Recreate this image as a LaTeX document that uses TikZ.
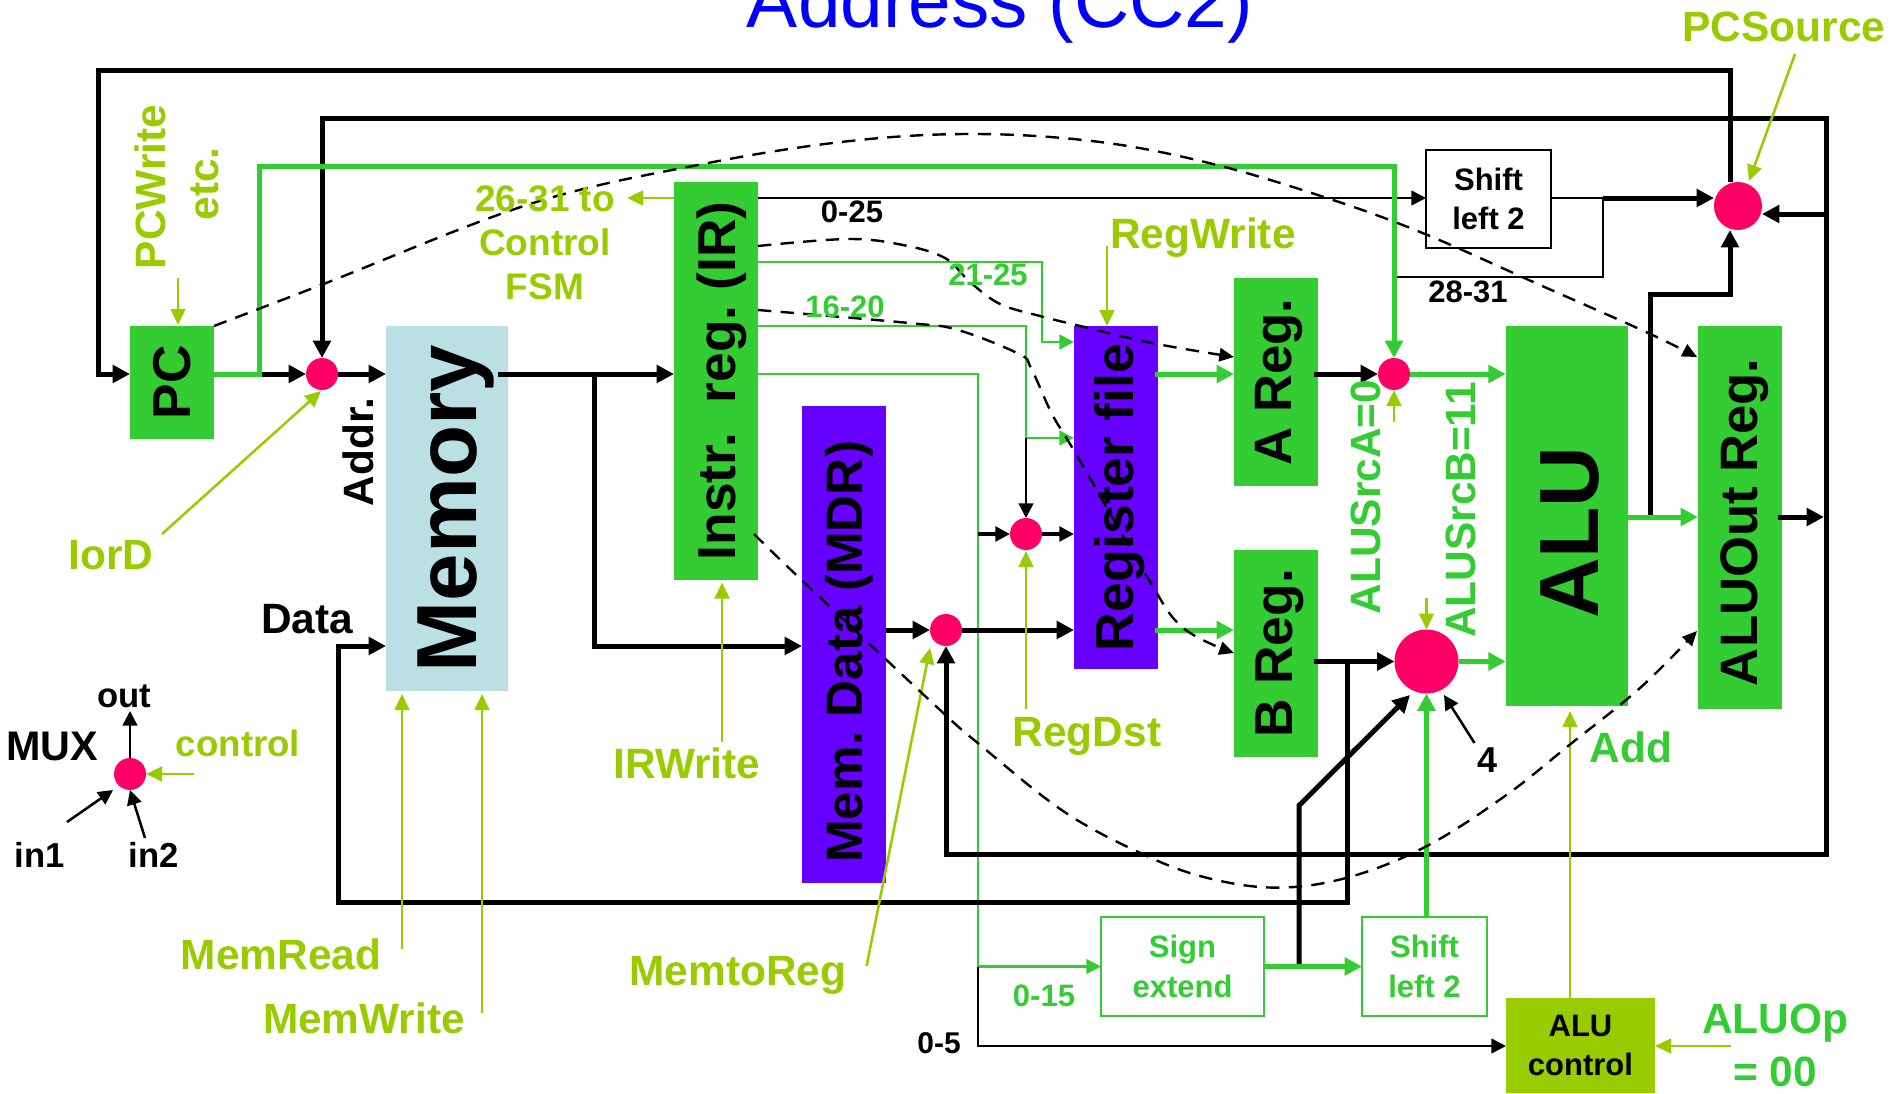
\documentclass[tikz,border=0pt]{standalone}
\usepackage{fontspec}
\usepackage{graphicx}
\setmainfont{Liberation Sans}
\usetikzlibrary{arrows.meta,shapes.geometric}
\definecolor{grn}{HTML}{33CC33}
\definecolor{olv}{HTML}{99CC00}
\definecolor{pur}{HTML}{6600FF}
\definecolor{memc}{HTML}{BBE0E3}
\definecolor{muxc}{HTML}{FF0066}
\newdimen\px \px=.75pt
\newcommand{\fsz}[1]{\fontsize{#1}{#1}\selectfont}
\newcommand{\fszl}[2]{\fontsize{#1}{#2}\selectfont}
\newcommand{\vt}[2][0pt]{\hspace*{#1}\rotatebox[origin=c]{90}{#2}}
\frenchspacing
\tikzset{
  reg/.style={inner sep=0pt,outer sep=0pt,font=\bfseries},
  muxn/.style={circle,fill=muxc,inner sep=0pt,outer sep=0pt,minimum size=32\px},
  lab/.style={inner sep=0pt,outer sep=0pt,font=\bfseries\fsz{31.8},text=olv,align=center},
  blab/.style={lab,text=black},
  glab/.style={lab,text=grn},
  wirek/.style={line width=3.75pt,line join=miter,>={Triangle[length=13pt,width=13pt]}},
  wiren/.style={line width=1.9pt,line join=miter,>={Triangle[length=11pt,width=11pt]}},
  greenk/.style={wirek,draw=grn},
  greenn/.style={wiren,draw=grn},
  ctrl/.style={line width=1.9pt,draw=olv,>={Triangle[length=12pt,width=11pt]}},
  dashc/.style={line width=1.8pt,dash pattern=on 10pt off 7pt,>={Triangle[length=11pt,width=10pt]}},
}
\begin{document}
\begin{tikzpicture}[x=.75pt,y=-.75pt]
\useasboundingbox (0,0) rectangle (1889,1093);
\fill[white] (0,0) rectangle (1889,1093);
\node[inner sep=0pt,anchor=base,text=blue,font=\fsz{57.4}] (title) at (1000,27) {Address (CC2)};

% registers and blocks
\node[reg,fill=grn,minimum width=84\px,minimum height=113\px,font=\bfseries\fsz{40}] (pc) at (172,382.5) {\vt{PC}};
\node[reg,fill=memc,minimum width=122\px,minimum height=365\px,font=\bfseries\fsz{64}] (mem) at (447,508.5) {\vt[14pt]{Memory}};
\node[reg,fill=grn,minimum width=84\px,minimum height=398.5\px,font=\bfseries\fsz{40}] (ir) at (716,381) {\vt[9pt]{Instr.\ \ reg. (IR)}};
\node[reg,fill=pur,minimum width=84\px,minimum height=477\px,font=\bfseries\fsz{38.5}] (mdr) at (844,644.5) {\vt[8pt]{Mem. Data (MDR)\hspace*{11pt}}};
\node[reg,fill=pur,minimum width=84\px,minimum height=343\px,font=\bfseries\fsz{40.3}] (rf) at (1116,497.5) {\vt[5.4pt]{Register file}};
\node[reg,fill=grn,minimum width=84\px,minimum height=208\px,font=\bfseries\fsz{39.5}] (aReg) at (1276,382) {\vt[5pt]{A Reg.}};
\node[reg,fill=grn,minimum width=84\px,minimum height=207\px,font=\bfseries\fsz{40}] (bReg) at (1276,653.5) {\vt[5pt]{B Reg.}};
\node[reg,fill=grn,minimum width=122.5\px,minimum height=380\px,font=\bfseries\fsz{63}] (alu) at (1567,516) {\vt[4pt]{ALU\hspace*{25pt}}};
\node[reg,fill=grn,minimum width=84\px,minimum height=383\px,font=\bfseries\fsz{39.5}] (aout) at (1740,517.5) {\vt[7pt]{ALUOut Reg.\hspace*{7pt}}};
\node[reg,draw=black,line width=1.9pt,minimum width=125\px,minimum height=98\px,align=center,font=\bfseries\fszl{23.25}{29.5}] (shA) at (1488.5,199) {Shift\\left 2};
\node[reg,draw=grn,line width=2pt,text=grn,minimum width=163\px,minimum height=99\px,align=center,font=\bfseries\fszl{23.25}{29.5}] (sign) at (1182.5,966.5) {Sign\\extend};
\node[reg,draw=grn,line width=2pt,text=grn,minimum width=125\px,minimum height=99\px,align=center,font=\bfseries\fszl{23.25}{29.5}] (shB) at (1424.5,966.5) {Shift\\left 2};
\node[reg,fill=olv,minimum width=149\px,minimum height=95\px,align=center,font=\bfseries\fszl{23.25}{29.5}] (aluc) at (1580.5,1045.5) {ALU\\control};

% multiplexers
\node[muxn] (mI) at (322,374) {};
\node[muxn] (mA) at (1394,374) {};
\node[muxn,minimum size=64\px] (mB) at (1426.5,661.5) {};
\node[muxn] (mR) at (1026,534) {};
\node[muxn] (mM) at (946,630) {};
\node[muxn,minimum size=48\px] (mP) at (1738,206) {};
\node[muxn] (mL) at (130,774) {};

% rows and junctions
\coordinate (r198) at (0,198);
\coordinate (r214) at (0,214);
\coordinate (r246) at (0,246);
\coordinate (r262) at (0,262);
\coordinate (r310) at (0,310);
\coordinate (r326) at (0,326);
\coordinate (r342) at (0,342);
\coordinate (r438) at (0,438);
\coordinate (r517) at (0,517);
\coordinate (r646) at (0,646);
\coordinate (r966) at (0,966.5);
\coordinate (r1046) at (0,1046);
\coordinate (jPC) at (259,374);
\coordinate (jMem) at (594,374);
\coordinate (jSh) at (1603,198);
\coordinate (j16) at (1026,438);
\coordinate (j0) at (978,966.5);
\coordinate (jR) at (978,534);
\coordinate (jB) at (1347,661.5);
\coordinate (jS) at (1299,966.5);
\coordinate (jO) at (1650,517);
\coordinate (jRt) at (1826,214);
\coordinate (eOut) at (1824,517);

% thin wires
\draw[greenn,->] (ir.east |- r262) -| (1042,342) -- (rf.west |- r342);
\draw[greenn,->] (ir.east |- r326) -| (1026,438) -- (rf.west |- r438);
\draw[greenn] (ir.east |- mI) -| (j0);
\draw[greenn,->] (j0) -- (sign.west |- r966);
\draw[wiren,->] (j0) |- (aluc.west |- r1046);
\draw[wiren,->] (ir.east |- r198) -- (shA.west |- r198);
\draw[wiren] (shA.east |- r198) -- (jSh) |- (1394,277);
\draw[wiren,->] (j16) -- (mR.north);
\draw[wiren,line width=2.6pt,->] (jR) -- (mR.west);
\draw[wiren,line width=2.6pt,->] (mR.east) -- (rf.west |- mR);
\draw[wiren,->] (mL.north) -- (130,711) coordinate (eL);
\draw[wiren,->] (67,822) coordinate (sIn1) -- (113,790);
\draw[wiren,->] (145,838) coordinate (sIn2) -- (130,790);
\draw[wiren,->] (1474.5,743) coordinate (s4) -- (1444,695);

% thick black wires
\draw[wirek,->] ([xshift=-8\px]mP.north) |- (98,70) |- (pc.west |- mI);
\draw[wirek,<->] (mI.north) |- (1826,118) |- (946,854) -- (mM.south);
\draw[wirek,->] (jPC) -- (mI.west);
\draw[wirek,->] (mI.east) -- (mem.west |- mI);
\draw[wirek,->] ([xshift=-10\px]mem.east |- mI) -- (ir.west |- mI);
\draw[wirek,->] (jMem) |- (mdr.west |- r646);
\draw[wirek,->] (mdr.east |- mM) -- (mM.west);
\draw[wirek,->] (mM.east) -- (rf.west |- mM);
\draw[wirek,->] ([xshift=-4\px]aReg.east |- mA) -- (mA.west);
\draw[wirek,->] ([xshift=-4\px]bReg.east |- mB) -- (mB.west);
\draw[wirek,->] (jB) |- (338,902) |- (mem.west |- r646);
\draw[wirek,->] (jS) -- (1299,805.5) -- (1410,695);
\draw[wirek,->] (jSh) -- (mP.west |- r198);
\draw[wirek,->] (jRt) -- (mP.east |- r214);
\draw[wirek,->] (jO) -- (1650,294) -| ([xshift=-8\px]mP.south);
\draw[wirek,->] ([xshift=-4\px]aout.east |- r517) -- (eOut);

% thick green wires
\draw[greenk,->] (pc.east |- mI) -| (259,166) -| (mA.north);
\draw[greenk,->] ([xshift=-3\px]rf.east |- mI) -- (aReg.west |- mI);
\draw[greenk,->] ([xshift=-3\px]rf.east |- mM) -- (bReg.west |- mM);
\draw[greenk,->] (mA.east) -- (alu.west |- mA);
\draw[greenk,->] (mB.east) -- (alu.west |- mB);
\draw[greenk,->] (alu.east |- r517) -- (aout.west |- r517);
\draw[greenk,->] (sign.east) -- (shB.west);
\draw[greenk,->] (mB.south |- shB.north) -- (mB.south);

% control signals
\coordinate (cIorD) at (162,534);
\coordinate (cPCW) at (178,278);
\coordinate (cMR) at (402,949);
\coordinate (cMW) at (482,1013);
\coordinate (cIRW) at (722,741.5);
\coordinate (cMtR) at (866.6,966);
\coordinate (cRW) at (1107,246);
\coordinate (cRD) at (1026,709);
\coordinate (cSA) at (1394,422);
\coordinate (cSB) at (1426.5,598);
\coordinate (cPS) at (1795,54);
\coordinate (cOp) at (1731,1046);
\coordinate (cL) at (194,774);
\draw[ctrl,->] (cIorD) -- (321,391);
\draw[ctrl,->] (cPCW) -- (178,325);
\draw[ctrl,->] (cMR) -- (402,694);
\draw[ctrl,->] (cMW) -- (482,694);
\draw[ctrl,->] (cIRW) -- (722,582.5);
\draw[ctrl,->] (cMtR) -- (930,648);
\draw[ctrl,->] (cRW) -- (1107,326);
\draw[ctrl,->] (cRD) -- (1026,551);
\draw[ctrl,->] (cSA) -- (mA.south);
\draw[ctrl,->] (cSB) -- (mB.north);
\draw[ctrl,->] (cPS) -- (1749,181);
\draw[ctrl,->] (cOp) -- (aluc.east |- r1046);
\draw[ctrl,->] (cL) -- (mL.east);
\draw[ctrl,->] (ir.west |- r198) -- (627,198);
\draw[ctrl,->] (1570,998) -- (1570,711);

% dashed state-transition curves
\draw[dashc,->] plot[smooth,tension=.6] coordinates {(pc.north east) (321,285) (530,204) (703,164) (850,141) (976,134) (1100,142) (1213,164) (1330,199) (1425,234) (1540,285) (1646,332) (1697,357)};
\draw[dashc,->] plot[smooth,tension=.6] coordinates {(ir.east |- r246) (848,239) (903,245) (945,258) (970,282) (1000,304) (1040,316) (1076,325) (1152,343) (1234,357)};
\draw[dashc,->] plot[smooth,tension=.6] coordinates {(ir.east |- r310) (909,323) (958,330) (1019,354) (1031,368) (1052,414) (1076,454) (1146,575) (1182,627) (1234,653)};
\draw[dashc,->] plot[smooth,tension=.6] coordinates {(754,534) (800,578.5) (939,709) (979,744) (1061,809.6) (1134,850) (1200,876) (1273,887.6) (1346,878) (1425,847) (1505,796) (1570,744.5) (1640,688) (1697,631)};

% labels
\node[lab] (lPCS) at (1784,27) {PCSource};
\node[lab] (lPCW) at (150,187) {\vt{PCWrite}};
\node[lab] (lEtc) at (205,184) {\vt{etc.}};
\node[lab,font=\bfseries\fszl{27.75}{33}] (lFSM) at (545,243) {26-31 to\\Control\\FSM};
\node[lab] (lIorD) at (111,555) {IorD};
\node[blab] (lAddr) at (358,452) {\vt{Addr.}};
\node[blab] (lData) at (307,619) {Data};
\node[lab] (lIRW) at (687,763) {IRWrite};
\node[lab] (lMR) at (281,954.6) {MemRead};
\node[lab] (lMW) at (364,1018.6) {MemWrite};
\node[lab] (lMtR) at (738,975) {MemtoReg};
\node[lab] (lRW) at (1203,238) {RegWrite};
\node[lab] (lRD) at (1087,736) {RegDst};
\node[glab] (lSA) at (1366,497) {\vt{ALUSrcA=0}};
\node[glab] (lSB) at (1461,510) {\vt{ALUSrcB=11}};
\node[glab] (lAdd) at (1631,747) {Add};
\node[glab] (lOp) at (1775,1023.5) {ALUOp};
\node[glab] (lOpv) at (1775,1072) {= 00};
\node[blab,font=\bfseries\fsz{23.25}] (l025) at (852,212) {0-25};
\node[glab,font=\bfseries\fsz{23.25}] (l2125) at (988,275) {21-25};
\node[glab,font=\bfseries\fsz{23.25}] (l1620) at (845,307) {16-20};
\node[blab,font=\bfseries\fsz{23.25}] (l2831) at (1468,292) {28-31};
\node[glab,font=\bfseries\fsz{23.25}] (l015) at (1044,996) {0-15};
\node[blab,font=\bfseries\fsz{22.5}] (l05) at (939,1043) {0-5};
\node[blab,font=\bfseries\fsz{27}] (l4) at (1487,760) {4};
\node[blab,font=\bfseries\fsz{31}] (lMUX) at (52,746) {MUX};
\node[blab,font=\bfseries\fsz{26}] (lOut) at (124,696) {out};
\node[lab,font=\bfseries\fsz{27.5}] (lCtl) at (238,743) {control};
\node[blab,font=\bfseries\fsz{26}] (lIn1) at (40,855) {in1};
\node[blab,font=\bfseries\fsz{26}] (lIn2) at (154,855) {in2};
\end{tikzpicture}
\end{document}
